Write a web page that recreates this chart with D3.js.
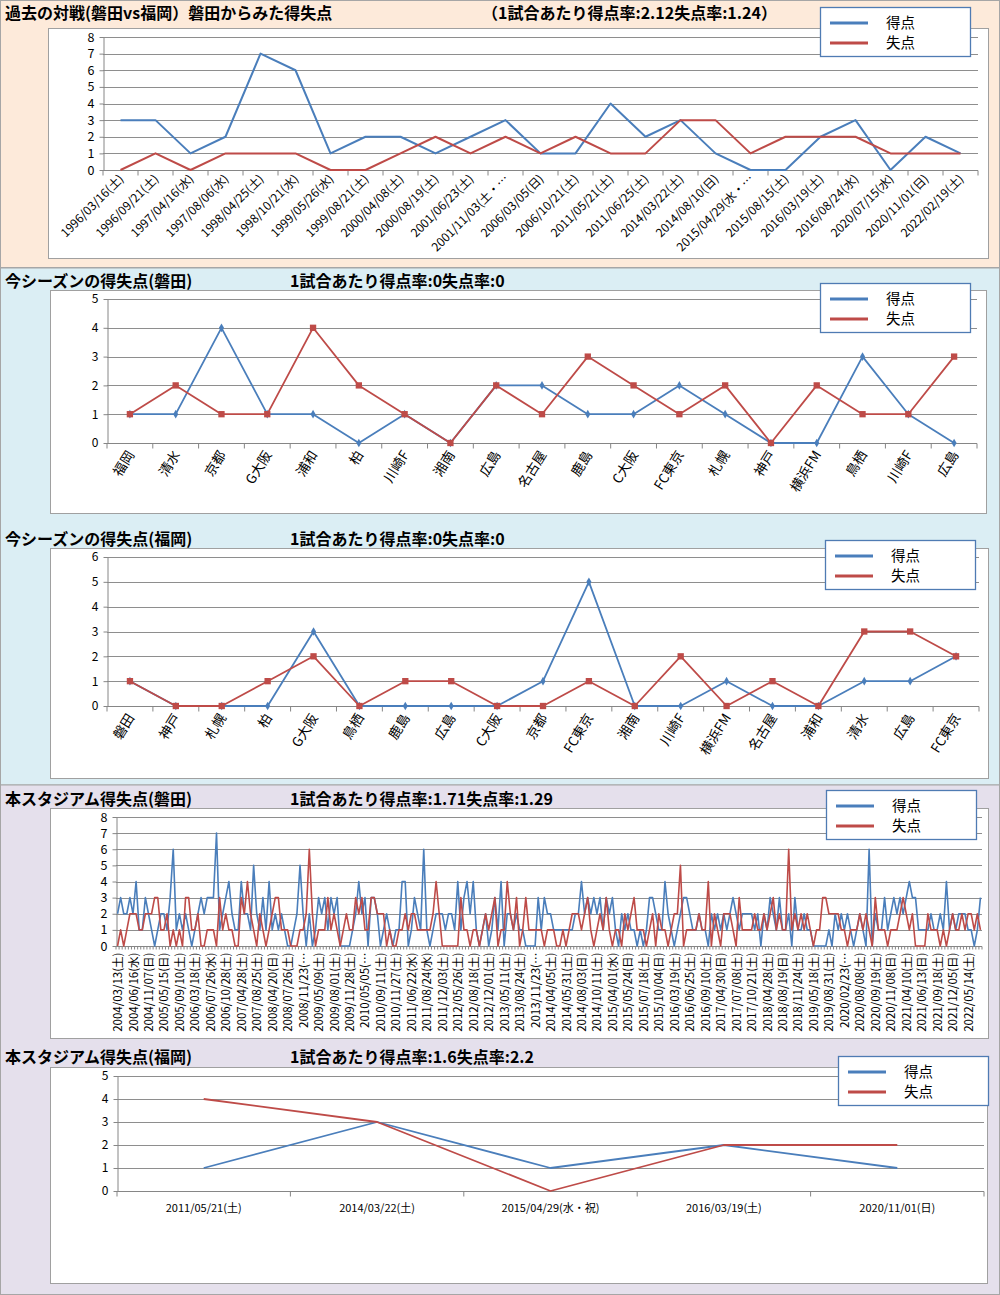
<!DOCTYPE html>
<html>
<head>
<meta charset="utf-8">
<script src="https://cdn.jsdelivr.net/npm/d3@7"></script>
<style>
  body { margin: 0; background: #fff; }
  svg { display: block; font-family: "Noto Sans CJK JP", "Noto Sans", sans-serif; }
</style>
</head>
<body>
<script>
var seriesNames = ["得点", "失点"];
var BLUE = "#4a7ebb", RED = "#be4b48";

// 過去の対戦
var h2hDates = ["1996/03/16(土)", "1996/09/21(土)", "1997/04/16(水)", "1997/08/06(水)", "1998/04/25(土)",
  "1998/10/21(水)", "1999/05/26(水)", "1999/08/21(土)", "2000/04/08(土)", "2000/08/19(土)",
  "2001/06/23(土)", "2001/11/03(土・…", "2006/03/05(日)", "2006/10/21(土)", "2011/05/21(土)",
  "2011/06/25(土)", "2014/03/22(土)", "2014/08/10(日)", "2015/04/29(水・…", "2015/08/15(土)",
  "2016/03/19(土)", "2016/08/24(水)", "2020/07/15(水)", "2020/11/01(日)", "2022/02/19(土)"];
var h2hFor     = [3,3,1,2,7,6,1,2,2,1,2,3,1,1,4,2,3,1,0,0,2,3,0,2,1];
var h2hAgainst = [0,1,0,1,1,1,0,0,1,2,1,2,1,2,1,1,3,3,1,2,2,2,1,1,1];

// 今シーズン(磐田)
var iwataOpp = ["福岡", "清水", "京都", "G大阪", "浦和", "柏", "川崎F", "湘南", "広島", "名古屋",
  "鹿島", "C大阪", "FC東京", "札幌", "神戸", "横浜FM", "鳥栖", "川崎F", "広島"];
var iwataFor     = [1,1,4,1,1,0,1,0,2,2,1,1,2,1,0,0,3,1,0];
var iwataAgainst = [1,2,1,1,4,2,1,0,2,1,3,2,1,2,0,2,1,1,3];

// 今シーズン(福岡)
var fukuokaOpp = ["磐田", "神戸", "札幌", "柏", "G大阪", "鳥栖", "鹿島", "広島", "C大阪", "京都",
  "FC東京", "湘南", "川崎F", "横浜FM", "名古屋", "浦和", "清水", "広島", "FC東京"];
var fukuokaFor     = [1,0,0,0,3,0,0,0,0,1,5,0,0,1,0,0,1,1,2];
var fukuokaAgainst = [1,0,0,1,2,0,1,1,0,0,1,0,2,0,1,0,3,3,2];

// 本スタジアム(磐田) – 目盛ラベルは5試合ごと
var stadiumTickLabels = ["2004/03/13(土)", "2004/06/16(水)", "2004/11/07(日)", "2005/05/15(日)", "2005/09/10(土)",
  "2006/03/18(土)", "2006/07/26(水)", "2006/10/28(土)", "2007/04/28(土)", "2007/08/25(土)",
  "2008/04/20(日)", "2008/07/26(土)", "2008/11/23(…", "2009/05/09(土)", "2009/08/01(土)",
  "2009/11/28(土)", "2010/05/05(…", "2010/09/11(土)", "2010/11/27(土)", "2011/06/22(水)",
  "2011/08/24(水)", "2011/12/03(土)", "2012/05/26(土)", "2012/08/18(土)", "2012/12/01(土)",
  "2013/05/11(土)", "2013/08/24(土)", "2013/11/23(…", "2014/04/05(土)", "2014/05/31(土)",
  "2014/08/03(日)", "2014/10/11(土)", "2015/04/01(水)", "2015/05/24(日)", "2015/07/18(土)",
  "2015/10/04(日)", "2016/03/19(土)", "2016/06/25(土)", "2016/09/10(土)", "2017/04/30(日)",
  "2017/07/08(土)", "2017/10/21(土)", "2018/04/28(土)", "2018/08/19(日)", "2018/11/24(土)",
  "2019/05/18(土)", "2019/08/31(土)", "2020/02/23(…", "2020/08/08(土)", "2020/09/19(土)",
  "2020/11/08(日)", "2021/04/10(土)", "2021/06/13(日)", "2021/09/18(土)", "2021/12/05(日)",
  "2022/05/14(土)"];
var stadiumFor = [
  2,3,2,2,3,2,4,1,1,3, 2,1,0,1,2,2,1,3,6,1, 2,1,2,1,0,1,2,3,2,3, 3,3,7,1,2,3,4,2,1,1,
  4,2,2,1,5,2,1,3,1,4, 1,2,1,2,1,0,0,1,2,5, 2,0,2,0,1,3,2,3,1,3, 2,3,0,0,0,0,1,2,4,2,
  3,0,3,3,2,0,1,2,1,0, 1,1,4,4,0,1,3,2,1,6, 1,0,1,2,2,2,1,2,2,1, 4,1,3,4,2,4,1,0,1,2,
  0,1,3,1,4,0,2,2,1,2, 1,1,0,0,0,0,3,1,3,2, 2,1,1,1,1,1,1,1,2,2, 4,2,3,2,3,2,3,1,3,2,
  3,1,0,2,1,2,1,1,0,1, 0,1,3,3,2,1,1,4,2,1, 0,1,2,3,3,2,1,1,2,1, 1,0,2,1,2,1,2,1,2,3,
  2,1,2,2,2,2,1,2,0,2, 1,3,2,1,3,1,1,2,0,3, 1,1,2,1,1,0,0,0,0,0, 1,0,2,1,2,1,2,1,0,1,
  2,1,0,6,0,2,1,1,3,1, 2,3,2,3,2,3,4,3,3,1, 1,1,1,2,1,1,2,1,4,1, 2,1,2,2,2,1,1,0,1,3];
var stadiumAgainst = [
  0,1,0,1,2,2,2,1,1,2, 2,2,3,3,1,1,2,0,1,0, 1,0,3,3,1,1,2,0,0,1, 1,1,0,3,1,2,1,1,0,0,
  3,2,4,2,1,0,2,1,0,1, 2,3,3,1,1,1,0,0,0,1, 1,2,6,2,0,1,1,1,3,1, 2,1,0,1,2,1,1,3,2,3,
  1,1,3,3,2,2,2,0,1,0, 0,1,1,2,1,2,2,1,1,1, 1,1,2,4,2,0,0,0,0,0, 0,3,1,1,0,1,1,0,1,2,
  1,2,3,0,1,1,4,2,1,3, 0,1,3,1,1,1,1,1,0,1, 1,1,0,0,1,0,1,2,2,2, 1,2,3,1,0,1,2,1,3,1,
  0,1,1,0,2,1,2,3,1,1, 1,0,1,2,0,2,1,1,0,1, 2,2,5,0,1,1,1,1,2,1, 1,4,0,2,1,0,2,2,2,1,
  0,3,1,1,1,1,2,1,1,2, 1,2,3,1,2,1,1,6,1,2, 1,2,1,2,1,0,1,1,3,3, 2,2,2,2,1,1,0,1,1,1,
  2,1,2,1,0,3,1,1,1,0, 1,1,1,2,3,2,1,2,0,0, 0,0,2,1,1,1,0,1,0,1, 2,1,1,2,1,2,2,1,2,1];

// 本スタジアム(福岡)
var fkStadiumDates = ["2011/05/21(土)", "2014/03/22(土)", "2015/04/29(水・祝)", "2016/03/19(土)", "2020/11/01(日)"];
var fkStadiumFor     = [1,3,1,2,1];
var fkStadiumAgainst = [4,3,0,2,2];

var svg = d3.select("body").append("svg").attr("width", 1000).attr("height", 1295);

// 背景帯
svg.append("rect").attr("x", 0.5).attr("y", 0.5).attr("width", 999).attr("height", 267)
  .attr("fill", "#fdeada").attr("stroke", "#a6a6a6");
svg.append("rect").attr("x", 0.5).attr("y", 268).attr("width", 999).attr("height", 517)
  .attr("fill", "#dbeef4").attr("stroke", "#a6a6a6");
svg.append("rect").attr("x", 0.5).attr("y", 785).attr("width", 999).attr("height", 509.5)
  .attr("fill", "#e5e0ec").attr("stroke", "#a6a6a6");

function drawChart(o) {
  var g = svg.append("g");

  g.append("text").attr("x", 5).attr("y", o.titleY).attr("font-size", 16).attr("font-weight", "bold")
    .text(o.title);
  g.append("text").attr("x", o.subX).attr("y", o.titleY).attr("font-size", 16).attr("font-weight", "bold")
    .text(o.sub);

  g.append("rect").attr("x", o.box[0] + 0.5).attr("y", o.box[1] + 0.5)
    .attr("width", o.box[2] - o.box[0]).attr("height", o.box[3] - o.box[1])
    .attr("fill", "#fff").attr("stroke", "#a0a0a0");

  var n = o.series[0].values.length;
  var x = d3.scaleBand().domain(d3.range(n)).range([o.plot[0], o.plot[2]]);
  var y = d3.scaleLinear().domain([0, o.yMax]).range([o.plot[3], o.plot[1]]);
  var cx = function(i) { return x(i) + x.bandwidth() / 2; };

  g.selectAll(".grid").data(d3.range(1, o.yMax + 1)).enter().append("line")
    .attr("x1", o.plot[0]).attr("x2", o.plot[2])
    .attr("y1", function(d) { return Math.round(y(d)) + 0.5; })
    .attr("y2", function(d) { return Math.round(y(d)) + 0.5; })
    .attr("stroke", "#8e8e8e");

  var ya = g.append("g").attr("transform", "translate(" + (o.plot[0] + 0.5) + ",0)")
    .call(d3.axisLeft(y).ticks(o.yMax).tickSize(4).tickSizeOuter(0).tickPadding(5));
  ya.select(".domain").attr("stroke", "#868686");
  ya.selectAll(".tick line").attr("stroke", "#868686");
  ya.selectAll(".tick text").attr("font-size", o.yFont).attr("fill", "#000")
    .attr("font-family", "\"Noto Sans CJK JP\", sans-serif");

  var xa = g.append("g").attr("transform", "translate(0," + (Math.round(o.plot[3]) + 0.5) + ")");
  xa.append("line").attr("x1", o.plot[0]).attr("x2", o.plot[2]).attr("stroke", "#868686");
  xa.selectAll(".xt").data(d3.range(0, n + 1, o.tickStep)).enter().append("line")
    .attr("x1", function(d) { return o.plot[0] + d * x.step(); })
    .attr("x2", function(d) { return o.plot[0] + d * x.step(); })
    .attr("y1", 0).attr("y2", o.tickLen).attr("stroke", "#868686");

  var lab = xa.selectAll(".xl").data(o.labels).enter().append("text")
    .attr("font-size", o.xFont).attr("fill", "#000")
    .text(function(d) { return d.text; });
  if (o.labelMode === "flat") {
    lab.attr("text-anchor", "middle").attr("x", function(d) { return cx(d.i); }).attr("y", 20);
  } else {
    lab.attr("text-anchor", "end").attr("transform", function(d) {
      return "translate(" + (cx(d.i) + o.labelDx) + "," + o.labelDy + ") rotate(" + o.angle + ")";
    });
  }

  o.series.forEach(function(s) {
    g.append("path").datum(s.values)
      .attr("fill", "none").attr("stroke", s.color).attr("stroke-width", o.lw)
      .attr("stroke-linejoin", "round")
      .attr("d", d3.line().x(function(d, i) { return cx(i); }).y(function(d) { return y(d); }));
    if (s.marker) {
      g.selectAll(null).data(s.values).enter().append("path")
        .attr("transform", function(d, i) { return "translate(" + cx(i) + "," + y(d) + ")"; })
        .attr("d", d3.symbol().type(s.marker).size(s.msize))
        .attr("fill", s.color);
    }
  });

  var L = o.legend;
  g.append("rect").attr("x", L[0] + 0.5).attr("y", L[1] + 0.5).attr("width", 150).attr("height", 49)
    .attr("fill", "#fff").attr("stroke", "#4f7bb3").attr("stroke-width", 1.3);
  [BLUE, RED].forEach(function(c, k) {
    var ly = L[1] + 16 + k * 20;
    g.append("line").attr("x1", L[0] + 10).attr("x2", L[0] + 48).attr("y1", ly).attr("y2", ly)
      .attr("stroke", c).attr("stroke-width", 3);
    g.append("text").attr("x", L[0] + 66).attr("y", ly + 5).attr("font-size", 14.5).text(seriesNames[k]);
  });
}

function everyLabel(arr) { return arr.map(function(t, i) { return { i: i, text: t }; }); }

drawChart({
  title: "過去の対戦(磐田vs福岡）磐田からみた得失点", sub: "（1試合あたり得点率:2.12失点率:1.24）",
  titleY: 19, subX: 482,
  box: [48, 28, 988, 258], plot: [103, 37, 978, 170], yMax: 8, yFont: 12.5,
  tickStep: 1, tickLen: 5, labels: everyLabel(h2hDates), labelMode: "rot", angle: -45,
  labelDx: 4, labelDy: 9, xFont: 12, lw: 2,
  series: [{ values: h2hFor, color: BLUE }, { values: h2hAgainst, color: RED }],
  legend: [820, 7]
});

drawChart({
  title: "今シーズンの得失点(磐田)", sub: "1試合あたり得点率:0失点率:0",
  titleY: 287, subX: 290,
  box: [50, 290, 986, 513], plot: [107, 299, 977, 443], yMax: 5, yFont: 12,
  tickStep: 1, tickLen: 5, labels: everyLabel(iwataOpp), labelMode: "rot", angle: -58,
  labelDx: 5, labelDy: 11, xFont: 13.5, lw: 1.8,
  series: [{ values: iwataFor, color: BLUE, marker: d3.symbolDiamond, msize: 22 },
           { values: iwataAgainst, color: RED, marker: d3.symbolSquare, msize: 40 }],
  legend: [820, 283]
});

drawChart({
  title: "今シーズンの得失点(福岡)", sub: "1試合あたり得点率:0失点率:0",
  titleY: 545, subX: 290,
  box: [50, 548, 988, 778], plot: [107, 557, 979, 706], yMax: 6, yFont: 12,
  tickStep: 1, tickLen: 5, labels: everyLabel(fukuokaOpp), labelMode: "rot", angle: -58,
  labelDx: 5, labelDy: 11, xFont: 13.5, lw: 1.8,
  series: [{ values: fukuokaFor, color: BLUE, marker: d3.symbolDiamond, msize: 22 },
           { values: fukuokaAgainst, color: RED, marker: d3.symbolSquare, msize: 40 }],
  legend: [825, 540]
});

drawChart({
  title: "本スタジアム得失点(磐田)", sub: "1試合あたり得点率:1.71失点率:1.29",
  titleY: 805, subX: 290,
  box: [50, 808, 988, 1038], plot: [116, 817, 982, 946], yMax: 8, yFont: 12.5,
  tickStep: 1, tickLen: 3,
  labels: stadiumTickLabels.map(function(t, k) { return { i: k * 5, text: t }; }),
  labelMode: "rot", angle: -90, labelDx: 4.5, labelDy: 6, xFont: 11.5, lw: 1.6,
  series: [{ values: stadiumFor, color: BLUE }, { values: stadiumAgainst, color: RED }],
  legend: [826, 790]
});

drawChart({
  title: "本スタジアム得失点(福岡)", sub: "1試合あたり得点率:1.6失点率:2.2",
  titleY: 1063, subX: 290,
  box: [50, 1067, 987, 1283], plot: [117, 1076, 984, 1191], yMax: 5, yFont: 12,
  tickStep: 1, tickLen: 5, labels: everyLabel(fkStadiumDates), labelMode: "flat",
  xFont: 11, lw: 1.8,
  series: [{ values: fkStadiumFor, color: BLUE }, { values: fkStadiumAgainst, color: RED }],
  legend: [838, 1056]
});
</script>
</body>
</html>
